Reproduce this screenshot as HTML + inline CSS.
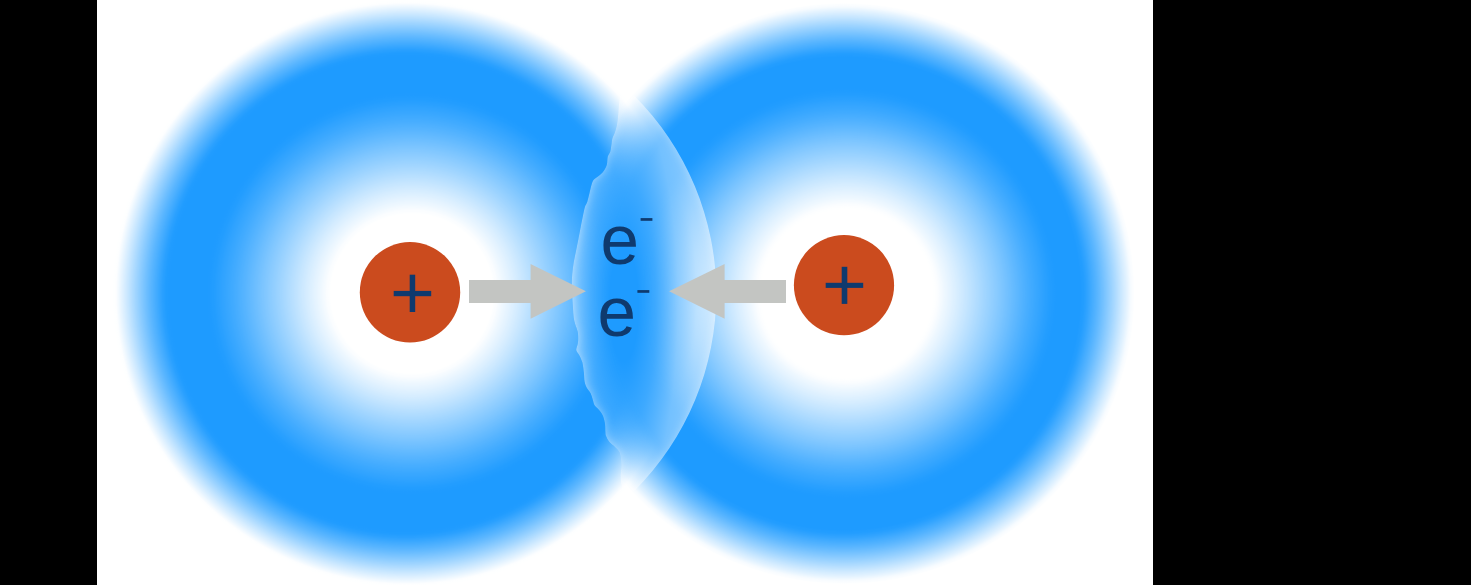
<!DOCTYPE html>
<html><head><meta charset="utf-8">
<style>
html,body{margin:0;padding:0;background:#000;width:1471px;height:585px;overflow:hidden}
svg{position:absolute;left:0;top:0;display:block}
</style></head>
<body>
<svg width="1471" height="585" viewBox="0 0 1471 585">
<defs>
<radialGradient id="go_L" gradientUnits="userSpaceOnUse" cx="406.5" cy="293.5" r="310">
<stop offset="0.0000" stop-color="#fff" stop-opacity="1.0000"/>
<stop offset="0.0125" stop-color="#fff" stop-opacity="1.0000"/>
<stop offset="0.0250" stop-color="#fff" stop-opacity="1.0000"/>
<stop offset="0.0375" stop-color="#fff" stop-opacity="1.0000"/>
<stop offset="0.0500" stop-color="#fff" stop-opacity="1.0000"/>
<stop offset="0.0625" stop-color="#fff" stop-opacity="1.0000"/>
<stop offset="0.0750" stop-color="#fff" stop-opacity="1.0000"/>
<stop offset="0.0875" stop-color="#fff" stop-opacity="1.0000"/>
<stop offset="0.1000" stop-color="#fff" stop-opacity="1.0000"/>
<stop offset="0.1125" stop-color="#fff" stop-opacity="1.0000"/>
<stop offset="0.1250" stop-color="#fff" stop-opacity="1.0000"/>
<stop offset="0.1375" stop-color="#fff" stop-opacity="1.0000"/>
<stop offset="0.1500" stop-color="#fff" stop-opacity="1.0000"/>
<stop offset="0.1625" stop-color="#fff" stop-opacity="1.0000"/>
<stop offset="0.1750" stop-color="#fff" stop-opacity="1.0000"/>
<stop offset="0.1875" stop-color="#fff" stop-opacity="1.0000"/>
<stop offset="0.2000" stop-color="#fff" stop-opacity="1.0000"/>
<stop offset="0.2125" stop-color="#fff" stop-opacity="1.0000"/>
<stop offset="0.2250" stop-color="#fff" stop-opacity="1.0000"/>
<stop offset="0.2375" stop-color="#fff" stop-opacity="1.0000"/>
<stop offset="0.2500" stop-color="#fff" stop-opacity="1.0000"/>
<stop offset="0.2625" stop-color="#fff" stop-opacity="1.0000"/>
<stop offset="0.2750" stop-color="#fff" stop-opacity="1.0000"/>
<stop offset="0.2875" stop-color="#fff" stop-opacity="1.0000"/>
<stop offset="0.3000" stop-color="#fff" stop-opacity="1.0000"/>
<stop offset="0.3125" stop-color="#fff" stop-opacity="1.0000"/>
<stop offset="0.3250" stop-color="#fff" stop-opacity="1.0000"/>
<stop offset="0.3375" stop-color="#fff" stop-opacity="1.0000"/>
<stop offset="0.3500" stop-color="#fff" stop-opacity="1.0000"/>
<stop offset="0.3625" stop-color="#fff" stop-opacity="1.0000"/>
<stop offset="0.3750" stop-color="#fff" stop-opacity="1.0000"/>
<stop offset="0.3875" stop-color="#fff" stop-opacity="1.0000"/>
<stop offset="0.4000" stop-color="#fff" stop-opacity="1.0000"/>
<stop offset="0.4125" stop-color="#fff" stop-opacity="1.0000"/>
<stop offset="0.4250" stop-color="#fff" stop-opacity="1.0000"/>
<stop offset="0.4375" stop-color="#fff" stop-opacity="1.0000"/>
<stop offset="0.4500" stop-color="#fff" stop-opacity="1.0000"/>
<stop offset="0.4625" stop-color="#fff" stop-opacity="1.0000"/>
<stop offset="0.4750" stop-color="#fff" stop-opacity="1.0000"/>
<stop offset="0.4875" stop-color="#fff" stop-opacity="1.0000"/>
<stop offset="0.5000" stop-color="#fff" stop-opacity="1.0000"/>
<stop offset="0.5125" stop-color="#fff" stop-opacity="1.0000"/>
<stop offset="0.5250" stop-color="#fff" stop-opacity="1.0000"/>
<stop offset="0.5375" stop-color="#fff" stop-opacity="1.0000"/>
<stop offset="0.5500" stop-color="#fff" stop-opacity="1.0000"/>
<stop offset="0.5625" stop-color="#fff" stop-opacity="1.0000"/>
<stop offset="0.5750" stop-color="#fff" stop-opacity="1.0000"/>
<stop offset="0.5875" stop-color="#fff" stop-opacity="1.0000"/>
<stop offset="0.6000" stop-color="#fff" stop-opacity="1.0000"/>
<stop offset="0.6125" stop-color="#fff" stop-opacity="1.0000"/>
<stop offset="0.6250" stop-color="#fff" stop-opacity="1.0000"/>
<stop offset="0.6375" stop-color="#fff" stop-opacity="1.0000"/>
<stop offset="0.6500" stop-color="#fff" stop-opacity="1.0000"/>
<stop offset="0.6625" stop-color="#fff" stop-opacity="1.0000"/>
<stop offset="0.6750" stop-color="#fff" stop-opacity="1.0000"/>
<stop offset="0.6875" stop-color="#fff" stop-opacity="1.0000"/>
<stop offset="0.7000" stop-color="#fff" stop-opacity="1.0000"/>
<stop offset="0.7125" stop-color="#fff" stop-opacity="1.0000"/>
<stop offset="0.7250" stop-color="#fff" stop-opacity="1.0000"/>
<stop offset="0.7375" stop-color="#fff" stop-opacity="1.0000"/>
<stop offset="0.7500" stop-color="#fff" stop-opacity="1.0000"/>
<stop offset="0.7625" stop-color="#fff" stop-opacity="1.0000"/>
<stop offset="0.7750" stop-color="#fff" stop-opacity="0.9912"/>
<stop offset="0.7875" stop-color="#fff" stop-opacity="0.9437"/>
<stop offset="0.8000" stop-color="#fff" stop-opacity="0.8736"/>
<stop offset="0.8125" stop-color="#fff" stop-opacity="0.8021"/>
<stop offset="0.8250" stop-color="#fff" stop-opacity="0.7325"/>
<stop offset="0.8375" stop-color="#fff" stop-opacity="0.6547"/>
<stop offset="0.8500" stop-color="#fff" stop-opacity="0.5732"/>
<stop offset="0.8625" stop-color="#fff" stop-opacity="0.4923"/>
<stop offset="0.8750" stop-color="#fff" stop-opacity="0.4098"/>
<stop offset="0.8875" stop-color="#fff" stop-opacity="0.3249"/>
<stop offset="0.9000" stop-color="#fff" stop-opacity="0.2409"/>
<stop offset="0.9125" stop-color="#fff" stop-opacity="0.1609"/>
<stop offset="0.9250" stop-color="#fff" stop-opacity="0.0829"/>
<stop offset="0.9375" stop-color="#fff" stop-opacity="0.0080"/>
<stop offset="0.9500" stop-color="#fff" stop-opacity="0.0000"/>
<stop offset="0.9625" stop-color="#fff" stop-opacity="0.0000"/>
<stop offset="0.9750" stop-color="#fff" stop-opacity="0.0000"/>
<stop offset="0.9875" stop-color="#fff" stop-opacity="0.0000"/>
<stop offset="1.0000" stop-color="#fff" stop-opacity="0.0000"/>
</radialGradient>
<radialGradient id="gi_L" gradientUnits="userSpaceOnUse" cx="412" cy="293.5" r="310" gradientTransform="translate(412 293.5) scale(1 0.98) translate(-412 -293.5)">
<stop offset="0.0000" stop-color="#fff" stop-opacity="0.0000"/>
<stop offset="0.0125" stop-color="#fff" stop-opacity="0.0000"/>
<stop offset="0.0250" stop-color="#fff" stop-opacity="0.0000"/>
<stop offset="0.0375" stop-color="#fff" stop-opacity="0.0000"/>
<stop offset="0.0500" stop-color="#fff" stop-opacity="0.0000"/>
<stop offset="0.0625" stop-color="#fff" stop-opacity="0.0000"/>
<stop offset="0.0750" stop-color="#fff" stop-opacity="0.0000"/>
<stop offset="0.0875" stop-color="#fff" stop-opacity="0.0000"/>
<stop offset="0.1000" stop-color="#fff" stop-opacity="0.0000"/>
<stop offset="0.1125" stop-color="#fff" stop-opacity="0.0000"/>
<stop offset="0.1250" stop-color="#fff" stop-opacity="0.0000"/>
<stop offset="0.1375" stop-color="#fff" stop-opacity="0.0000"/>
<stop offset="0.1500" stop-color="#fff" stop-opacity="0.0000"/>
<stop offset="0.1625" stop-color="#fff" stop-opacity="0.0000"/>
<stop offset="0.1750" stop-color="#fff" stop-opacity="0.0000"/>
<stop offset="0.1875" stop-color="#fff" stop-opacity="0.0000"/>
<stop offset="0.2000" stop-color="#fff" stop-opacity="0.0000"/>
<stop offset="0.2125" stop-color="#fff" stop-opacity="0.0000"/>
<stop offset="0.2250" stop-color="#fff" stop-opacity="0.0000"/>
<stop offset="0.2375" stop-color="#fff" stop-opacity="0.0000"/>
<stop offset="0.2500" stop-color="#fff" stop-opacity="0.0000"/>
<stop offset="0.2625" stop-color="#fff" stop-opacity="0.0019"/>
<stop offset="0.2750" stop-color="#fff" stop-opacity="0.0230"/>
<stop offset="0.2875" stop-color="#fff" stop-opacity="0.0562"/>
<stop offset="0.3000" stop-color="#fff" stop-opacity="0.0874"/>
<stop offset="0.3125" stop-color="#fff" stop-opacity="0.1173"/>
<stop offset="0.3250" stop-color="#fff" stop-opacity="0.1486"/>
<stop offset="0.3375" stop-color="#fff" stop-opacity="0.1813"/>
<stop offset="0.3500" stop-color="#fff" stop-opacity="0.2150"/>
<stop offset="0.3625" stop-color="#fff" stop-opacity="0.2496"/>
<stop offset="0.3750" stop-color="#fff" stop-opacity="0.2847"/>
<stop offset="0.3875" stop-color="#fff" stop-opacity="0.3203"/>
<stop offset="0.4000" stop-color="#fff" stop-opacity="0.3560"/>
<stop offset="0.4125" stop-color="#fff" stop-opacity="0.3916"/>
<stop offset="0.4250" stop-color="#fff" stop-opacity="0.4269"/>
<stop offset="0.4375" stop-color="#fff" stop-opacity="0.4617"/>
<stop offset="0.4500" stop-color="#fff" stop-opacity="0.4957"/>
<stop offset="0.4625" stop-color="#fff" stop-opacity="0.5295"/>
<stop offset="0.4750" stop-color="#fff" stop-opacity="0.5642"/>
<stop offset="0.4875" stop-color="#fff" stop-opacity="0.5994"/>
<stop offset="0.5000" stop-color="#fff" stop-opacity="0.6350"/>
<stop offset="0.5125" stop-color="#fff" stop-opacity="0.6705"/>
<stop offset="0.5250" stop-color="#fff" stop-opacity="0.7056"/>
<stop offset="0.5375" stop-color="#fff" stop-opacity="0.7402"/>
<stop offset="0.5500" stop-color="#fff" stop-opacity="0.7739"/>
<stop offset="0.5625" stop-color="#fff" stop-opacity="0.8063"/>
<stop offset="0.5750" stop-color="#fff" stop-opacity="0.8372"/>
<stop offset="0.5875" stop-color="#fff" stop-opacity="0.8664"/>
<stop offset="0.6000" stop-color="#fff" stop-opacity="0.8934"/>
<stop offset="0.6125" stop-color="#fff" stop-opacity="0.9201"/>
<stop offset="0.6250" stop-color="#fff" stop-opacity="0.9488"/>
<stop offset="0.6375" stop-color="#fff" stop-opacity="0.9750"/>
<stop offset="0.6500" stop-color="#fff" stop-opacity="0.9937"/>
<stop offset="0.6625" stop-color="#fff" stop-opacity="1.0000"/>
<stop offset="0.6750" stop-color="#fff" stop-opacity="1.0000"/>
<stop offset="0.6875" stop-color="#fff" stop-opacity="1.0000"/>
<stop offset="0.7000" stop-color="#fff" stop-opacity="1.0000"/>
<stop offset="0.7125" stop-color="#fff" stop-opacity="1.0000"/>
<stop offset="0.7250" stop-color="#fff" stop-opacity="1.0000"/>
<stop offset="0.7375" stop-color="#fff" stop-opacity="1.0000"/>
<stop offset="0.7500" stop-color="#fff" stop-opacity="1.0000"/>
<stop offset="0.7625" stop-color="#fff" stop-opacity="1.0000"/>
<stop offset="0.7750" stop-color="#fff" stop-opacity="1.0000"/>
<stop offset="0.7875" stop-color="#fff" stop-opacity="1.0000"/>
<stop offset="0.8000" stop-color="#fff" stop-opacity="1.0000"/>
<stop offset="0.8125" stop-color="#fff" stop-opacity="1.0000"/>
<stop offset="0.8250" stop-color="#fff" stop-opacity="1.0000"/>
<stop offset="0.8375" stop-color="#fff" stop-opacity="1.0000"/>
<stop offset="0.8500" stop-color="#fff" stop-opacity="1.0000"/>
<stop offset="0.8625" stop-color="#fff" stop-opacity="1.0000"/>
<stop offset="0.8750" stop-color="#fff" stop-opacity="1.0000"/>
<stop offset="0.8875" stop-color="#fff" stop-opacity="1.0000"/>
<stop offset="0.9000" stop-color="#fff" stop-opacity="1.0000"/>
<stop offset="0.9125" stop-color="#fff" stop-opacity="1.0000"/>
<stop offset="0.9250" stop-color="#fff" stop-opacity="1.0000"/>
<stop offset="0.9375" stop-color="#fff" stop-opacity="1.0000"/>
<stop offset="0.9500" stop-color="#fff" stop-opacity="1.0000"/>
<stop offset="0.9625" stop-color="#fff" stop-opacity="1.0000"/>
<stop offset="0.9750" stop-color="#fff" stop-opacity="1.0000"/>
<stop offset="0.9875" stop-color="#fff" stop-opacity="1.0000"/>
<stop offset="1.0000" stop-color="#fff" stop-opacity="1.0000"/>
</radialGradient>
<mask id="mo_L" maskUnits="userSpaceOnUse" x="0" y="0" width="1471" height="585"><rect x="0" y="0" width="1471" height="585" fill="url(#go_L)"/></mask>
<mask id="mi_L" maskUnits="userSpaceOnUse" x="0" y="0" width="1471" height="585"><rect x="0" y="0" width="1471" height="585" fill="url(#gi_L)"/></mask>
<radialGradient id="go_R" gradientUnits="userSpaceOnUse" cx="844" cy="293.5" r="310">
<stop offset="0.0000" stop-color="#fff" stop-opacity="1.0000"/>
<stop offset="0.0125" stop-color="#fff" stop-opacity="1.0000"/>
<stop offset="0.0250" stop-color="#fff" stop-opacity="1.0000"/>
<stop offset="0.0375" stop-color="#fff" stop-opacity="1.0000"/>
<stop offset="0.0500" stop-color="#fff" stop-opacity="1.0000"/>
<stop offset="0.0625" stop-color="#fff" stop-opacity="1.0000"/>
<stop offset="0.0750" stop-color="#fff" stop-opacity="1.0000"/>
<stop offset="0.0875" stop-color="#fff" stop-opacity="1.0000"/>
<stop offset="0.1000" stop-color="#fff" stop-opacity="1.0000"/>
<stop offset="0.1125" stop-color="#fff" stop-opacity="1.0000"/>
<stop offset="0.1250" stop-color="#fff" stop-opacity="1.0000"/>
<stop offset="0.1375" stop-color="#fff" stop-opacity="1.0000"/>
<stop offset="0.1500" stop-color="#fff" stop-opacity="1.0000"/>
<stop offset="0.1625" stop-color="#fff" stop-opacity="1.0000"/>
<stop offset="0.1750" stop-color="#fff" stop-opacity="1.0000"/>
<stop offset="0.1875" stop-color="#fff" stop-opacity="1.0000"/>
<stop offset="0.2000" stop-color="#fff" stop-opacity="1.0000"/>
<stop offset="0.2125" stop-color="#fff" stop-opacity="1.0000"/>
<stop offset="0.2250" stop-color="#fff" stop-opacity="1.0000"/>
<stop offset="0.2375" stop-color="#fff" stop-opacity="1.0000"/>
<stop offset="0.2500" stop-color="#fff" stop-opacity="1.0000"/>
<stop offset="0.2625" stop-color="#fff" stop-opacity="1.0000"/>
<stop offset="0.2750" stop-color="#fff" stop-opacity="1.0000"/>
<stop offset="0.2875" stop-color="#fff" stop-opacity="1.0000"/>
<stop offset="0.3000" stop-color="#fff" stop-opacity="1.0000"/>
<stop offset="0.3125" stop-color="#fff" stop-opacity="1.0000"/>
<stop offset="0.3250" stop-color="#fff" stop-opacity="1.0000"/>
<stop offset="0.3375" stop-color="#fff" stop-opacity="1.0000"/>
<stop offset="0.3500" stop-color="#fff" stop-opacity="1.0000"/>
<stop offset="0.3625" stop-color="#fff" stop-opacity="1.0000"/>
<stop offset="0.3750" stop-color="#fff" stop-opacity="1.0000"/>
<stop offset="0.3875" stop-color="#fff" stop-opacity="1.0000"/>
<stop offset="0.4000" stop-color="#fff" stop-opacity="1.0000"/>
<stop offset="0.4125" stop-color="#fff" stop-opacity="1.0000"/>
<stop offset="0.4250" stop-color="#fff" stop-opacity="1.0000"/>
<stop offset="0.4375" stop-color="#fff" stop-opacity="1.0000"/>
<stop offset="0.4500" stop-color="#fff" stop-opacity="1.0000"/>
<stop offset="0.4625" stop-color="#fff" stop-opacity="1.0000"/>
<stop offset="0.4750" stop-color="#fff" stop-opacity="1.0000"/>
<stop offset="0.4875" stop-color="#fff" stop-opacity="1.0000"/>
<stop offset="0.5000" stop-color="#fff" stop-opacity="1.0000"/>
<stop offset="0.5125" stop-color="#fff" stop-opacity="1.0000"/>
<stop offset="0.5250" stop-color="#fff" stop-opacity="1.0000"/>
<stop offset="0.5375" stop-color="#fff" stop-opacity="1.0000"/>
<stop offset="0.5500" stop-color="#fff" stop-opacity="1.0000"/>
<stop offset="0.5625" stop-color="#fff" stop-opacity="1.0000"/>
<stop offset="0.5750" stop-color="#fff" stop-opacity="1.0000"/>
<stop offset="0.5875" stop-color="#fff" stop-opacity="1.0000"/>
<stop offset="0.6000" stop-color="#fff" stop-opacity="1.0000"/>
<stop offset="0.6125" stop-color="#fff" stop-opacity="1.0000"/>
<stop offset="0.6250" stop-color="#fff" stop-opacity="1.0000"/>
<stop offset="0.6375" stop-color="#fff" stop-opacity="1.0000"/>
<stop offset="0.6500" stop-color="#fff" stop-opacity="1.0000"/>
<stop offset="0.6625" stop-color="#fff" stop-opacity="1.0000"/>
<stop offset="0.6750" stop-color="#fff" stop-opacity="1.0000"/>
<stop offset="0.6875" stop-color="#fff" stop-opacity="1.0000"/>
<stop offset="0.7000" stop-color="#fff" stop-opacity="1.0000"/>
<stop offset="0.7125" stop-color="#fff" stop-opacity="1.0000"/>
<stop offset="0.7250" stop-color="#fff" stop-opacity="1.0000"/>
<stop offset="0.7375" stop-color="#fff" stop-opacity="1.0000"/>
<stop offset="0.7500" stop-color="#fff" stop-opacity="1.0000"/>
<stop offset="0.7625" stop-color="#fff" stop-opacity="0.9997"/>
<stop offset="0.7750" stop-color="#fff" stop-opacity="0.9708"/>
<stop offset="0.7875" stop-color="#fff" stop-opacity="0.9090"/>
<stop offset="0.8000" stop-color="#fff" stop-opacity="0.8355"/>
<stop offset="0.8125" stop-color="#fff" stop-opacity="0.7674"/>
<stop offset="0.8250" stop-color="#fff" stop-opacity="0.6931"/>
<stop offset="0.8375" stop-color="#fff" stop-opacity="0.6128"/>
<stop offset="0.8500" stop-color="#fff" stop-opacity="0.5311"/>
<stop offset="0.8625" stop-color="#fff" stop-opacity="0.4502"/>
<stop offset="0.8750" stop-color="#fff" stop-opacity="0.3661"/>
<stop offset="0.8875" stop-color="#fff" stop-opacity="0.2812"/>
<stop offset="0.9000" stop-color="#fff" stop-opacity="0.1989"/>
<stop offset="0.9125" stop-color="#fff" stop-opacity="0.1223"/>
<stop offset="0.9250" stop-color="#fff" stop-opacity="0.0385"/>
<stop offset="0.9375" stop-color="#fff" stop-opacity="0.0000"/>
<stop offset="0.9500" stop-color="#fff" stop-opacity="0.0000"/>
<stop offset="0.9625" stop-color="#fff" stop-opacity="0.0000"/>
<stop offset="0.9750" stop-color="#fff" stop-opacity="0.0000"/>
<stop offset="0.9875" stop-color="#fff" stop-opacity="0.0000"/>
<stop offset="1.0000" stop-color="#fff" stop-opacity="0.0000"/>
</radialGradient>
<radialGradient id="gi_R" gradientUnits="userSpaceOnUse" cx="847" cy="293.5" r="310" gradientTransform="translate(847 293.5) scale(1 0.98) translate(-847 -293.5)">
<stop offset="0.0000" stop-color="#fff" stop-opacity="0.0000"/>
<stop offset="0.0125" stop-color="#fff" stop-opacity="0.0000"/>
<stop offset="0.0250" stop-color="#fff" stop-opacity="0.0000"/>
<stop offset="0.0375" stop-color="#fff" stop-opacity="0.0000"/>
<stop offset="0.0500" stop-color="#fff" stop-opacity="0.0000"/>
<stop offset="0.0625" stop-color="#fff" stop-opacity="0.0000"/>
<stop offset="0.0750" stop-color="#fff" stop-opacity="0.0000"/>
<stop offset="0.0875" stop-color="#fff" stop-opacity="0.0000"/>
<stop offset="0.1000" stop-color="#fff" stop-opacity="0.0000"/>
<stop offset="0.1125" stop-color="#fff" stop-opacity="0.0000"/>
<stop offset="0.1250" stop-color="#fff" stop-opacity="0.0000"/>
<stop offset="0.1375" stop-color="#fff" stop-opacity="0.0000"/>
<stop offset="0.1500" stop-color="#fff" stop-opacity="0.0000"/>
<stop offset="0.1625" stop-color="#fff" stop-opacity="0.0000"/>
<stop offset="0.1750" stop-color="#fff" stop-opacity="0.0000"/>
<stop offset="0.1875" stop-color="#fff" stop-opacity="0.0000"/>
<stop offset="0.2000" stop-color="#fff" stop-opacity="0.0000"/>
<stop offset="0.2125" stop-color="#fff" stop-opacity="0.0000"/>
<stop offset="0.2250" stop-color="#fff" stop-opacity="0.0000"/>
<stop offset="0.2375" stop-color="#fff" stop-opacity="0.0000"/>
<stop offset="0.2500" stop-color="#fff" stop-opacity="0.0000"/>
<stop offset="0.2625" stop-color="#fff" stop-opacity="0.0000"/>
<stop offset="0.2750" stop-color="#fff" stop-opacity="0.0000"/>
<stop offset="0.2875" stop-color="#fff" stop-opacity="0.0090"/>
<stop offset="0.3000" stop-color="#fff" stop-opacity="0.0375"/>
<stop offset="0.3125" stop-color="#fff" stop-opacity="0.0713"/>
<stop offset="0.3250" stop-color="#fff" stop-opacity="0.1005"/>
<stop offset="0.3375" stop-color="#fff" stop-opacity="0.1304"/>
<stop offset="0.3500" stop-color="#fff" stop-opacity="0.1616"/>
<stop offset="0.3625" stop-color="#fff" stop-opacity="0.1937"/>
<stop offset="0.3750" stop-color="#fff" stop-opacity="0.2267"/>
<stop offset="0.3875" stop-color="#fff" stop-opacity="0.2604"/>
<stop offset="0.4000" stop-color="#fff" stop-opacity="0.2946"/>
<stop offset="0.4125" stop-color="#fff" stop-opacity="0.3292"/>
<stop offset="0.4250" stop-color="#fff" stop-opacity="0.3640"/>
<stop offset="0.4375" stop-color="#fff" stop-opacity="0.3989"/>
<stop offset="0.4500" stop-color="#fff" stop-opacity="0.4336"/>
<stop offset="0.4625" stop-color="#fff" stop-opacity="0.4681"/>
<stop offset="0.4750" stop-color="#fff" stop-opacity="0.5022"/>
<stop offset="0.4875" stop-color="#fff" stop-opacity="0.5369"/>
<stop offset="0.5000" stop-color="#fff" stop-opacity="0.5729"/>
<stop offset="0.5125" stop-color="#fff" stop-opacity="0.6098"/>
<stop offset="0.5250" stop-color="#fff" stop-opacity="0.6471"/>
<stop offset="0.5375" stop-color="#fff" stop-opacity="0.6844"/>
<stop offset="0.5500" stop-color="#fff" stop-opacity="0.7213"/>
<stop offset="0.5625" stop-color="#fff" stop-opacity="0.7575"/>
<stop offset="0.5750" stop-color="#fff" stop-opacity="0.7924"/>
<stop offset="0.5875" stop-color="#fff" stop-opacity="0.8256"/>
<stop offset="0.6000" stop-color="#fff" stop-opacity="0.8568"/>
<stop offset="0.6125" stop-color="#fff" stop-opacity="0.8855"/>
<stop offset="0.6250" stop-color="#fff" stop-opacity="0.9121"/>
<stop offset="0.6375" stop-color="#fff" stop-opacity="0.9408"/>
<stop offset="0.6500" stop-color="#fff" stop-opacity="0.9682"/>
<stop offset="0.6625" stop-color="#fff" stop-opacity="0.9894"/>
<stop offset="0.6750" stop-color="#fff" stop-opacity="0.9997"/>
<stop offset="0.6875" stop-color="#fff" stop-opacity="1.0000"/>
<stop offset="0.7000" stop-color="#fff" stop-opacity="1.0000"/>
<stop offset="0.7125" stop-color="#fff" stop-opacity="1.0000"/>
<stop offset="0.7250" stop-color="#fff" stop-opacity="1.0000"/>
<stop offset="0.7375" stop-color="#fff" stop-opacity="1.0000"/>
<stop offset="0.7500" stop-color="#fff" stop-opacity="1.0000"/>
<stop offset="0.7625" stop-color="#fff" stop-opacity="1.0000"/>
<stop offset="0.7750" stop-color="#fff" stop-opacity="1.0000"/>
<stop offset="0.7875" stop-color="#fff" stop-opacity="1.0000"/>
<stop offset="0.8000" stop-color="#fff" stop-opacity="1.0000"/>
<stop offset="0.8125" stop-color="#fff" stop-opacity="1.0000"/>
<stop offset="0.8250" stop-color="#fff" stop-opacity="1.0000"/>
<stop offset="0.8375" stop-color="#fff" stop-opacity="1.0000"/>
<stop offset="0.8500" stop-color="#fff" stop-opacity="1.0000"/>
<stop offset="0.8625" stop-color="#fff" stop-opacity="1.0000"/>
<stop offset="0.8750" stop-color="#fff" stop-opacity="1.0000"/>
<stop offset="0.8875" stop-color="#fff" stop-opacity="1.0000"/>
<stop offset="0.9000" stop-color="#fff" stop-opacity="1.0000"/>
<stop offset="0.9125" stop-color="#fff" stop-opacity="1.0000"/>
<stop offset="0.9250" stop-color="#fff" stop-opacity="1.0000"/>
<stop offset="0.9375" stop-color="#fff" stop-opacity="1.0000"/>
<stop offset="0.9500" stop-color="#fff" stop-opacity="1.0000"/>
<stop offset="0.9625" stop-color="#fff" stop-opacity="1.0000"/>
<stop offset="0.9750" stop-color="#fff" stop-opacity="1.0000"/>
<stop offset="0.9875" stop-color="#fff" stop-opacity="1.0000"/>
<stop offset="1.0000" stop-color="#fff" stop-opacity="1.0000"/>
</radialGradient>
<mask id="mo_R" maskUnits="userSpaceOnUse" x="0" y="0" width="1471" height="585"><rect x="0" y="0" width="1471" height="585" fill="url(#go_R)"/></mask>
<mask id="mi_R" maskUnits="userSpaceOnUse" x="0" y="0" width="1471" height="585"><rect x="0" y="0" width="1471" height="585" fill="url(#gi_R)"/></mask>
<radialGradient id="lg" gradientUnits="userSpaceOnUse" cx="624" cy="305" r="280" gradientTransform="translate(624 305) scale(0.2571 1) translate(-624 -305)">
<stop offset="0" stop-color="#fff" stop-opacity="0"/>
<stop offset="0.2" stop-color="#fff" stop-opacity="0.0"/>
<stop offset="0.45" stop-color="#fff" stop-opacity="0.14"/>
<stop offset="0.75" stop-color="#fff" stop-opacity="0.38"/>
<stop offset="1" stop-color="#fff" stop-opacity="0.45"/>
</radialGradient>
<filter id="ig" x="-50%" y="-50%" width="200%" height="200%">
<feGaussianBlur in="SourceAlpha" stdDeviation="5" result="b"/>
<feComposite in="SourceAlpha" in2="b" operator="out" result="edge"/>
<feFlood flood-color="#fff" flood-opacity="0.4"/>
<feComposite in2="edge" operator="in"/>
</filter>
<filter id="ig2" x="-50%" y="-50%" width="200%" height="200%">
<feGaussianBlur in="SourceAlpha" stdDeviation="4" result="b"/>
<feComposite in="SourceAlpha" in2="b" operator="out" result="edge"/>
<feFlood flood-color="#fff" flood-opacity="0.3"/>
<feComposite in2="edge" operator="in"/>
</filter>
<clipPath id="lc"><path d="M620.3 96.0 L634.0 95.6 A279 279 0 0 1 634.6 490.7 L626.0 493.0 C625.6 492.5 624.5 491.3 623.7 489.8 C622.9 488.3 621.8 486.2 621.3 483.8 C620.8 481.4 620.7 478.5 620.7 475.5 C620.7 472.5 621.3 468.9 621.3 465.9 C621.3 462.9 621.1 459.9 620.7 457.5 C620.3 455.1 619.9 453.3 618.9 451.5 C617.9 449.7 616.3 448.3 614.7 446.7 C613.1 445.1 610.9 443.8 609.4 442.0 C607.9 440.2 606.7 437.6 606.0 436.0 C605.3 434.4 605.6 434.3 605.4 432.3 C605.2 430.3 605.4 426.8 605.0 424.1 C604.6 421.4 604.0 418.3 603.0 415.9 C602.0 413.5 600.2 411.4 598.8 409.7 C597.4 408.0 595.7 407.3 594.7 405.6 C593.7 403.9 593.4 401.6 592.7 399.5 C592.0 397.4 591.6 395.4 590.6 393.3 C589.6 391.2 587.5 389.2 586.5 387.2 C585.5 385.1 584.9 383.4 584.5 381.0 C584.1 378.6 584.2 375.9 583.9 372.8 C583.5 369.7 583.1 365.5 582.4 362.6 C581.6 359.7 580.4 357.4 579.4 355.4 C578.4 353.3 576.6 352.2 576.3 350.3 C576.0 348.4 577.4 346.0 577.7 344.1 C578.0 342.2 578.2 341.1 578.2 339.0 C578.2 336.9 578.2 334.2 577.7 331.8 C577.2 329.4 576.0 327.0 575.3 324.6 C574.6 322.2 574.1 320.3 573.7 317.5 C573.3 314.7 573.2 311.5 573.0 307.9 C572.8 304.3 572.4 299.5 572.2 295.9 C572.0 292.3 571.8 290.0 571.8 286.4 C571.8 282.8 571.9 278.4 572.2 274.4 C572.5 270.4 573.1 266.4 573.7 262.4 C574.4 258.4 575.3 254.5 576.1 250.5 C576.9 246.5 577.7 242.5 578.5 238.5 C579.3 234.5 580.0 230.5 580.8 226.5 C581.6 222.5 582.5 217.8 583.2 214.6 C583.9 211.3 584.2 209.2 584.9 207.0 C585.6 204.8 586.5 203.9 587.3 201.7 C588.0 199.4 588.7 196.2 589.4 193.5 C590.1 190.8 590.7 187.5 591.4 185.3 C592.1 183.1 592.3 181.7 593.5 180.1 C594.7 178.5 596.9 177.5 598.6 176.0 C600.3 174.5 602.3 172.8 603.7 170.9 C605.1 169.0 606.1 167.1 606.8 164.7 C607.5 162.3 607.2 158.7 607.8 156.5 C608.4 154.3 609.7 153.5 610.3 151.4 C610.9 149.3 611.1 146.4 611.5 144.2 C611.9 142.0 611.9 140.1 612.5 138.1 C613.1 136.1 614.2 134.3 615.0 131.9 C615.8 129.5 616.5 127.1 617.1 123.7 C617.7 120.3 618.2 114.8 618.5 111.4 C618.8 108.0 618.8 105.8 619.1 103.2 C619.4 100.6 620.1 97.2 620.3 96.0 Z"/></clipPath>
<clipPath id="rc"><path d="M620.3 96.0 L620.3 -50 L1300 -50 L1300 650 L626.0 650 L626.0 493.0 C625.6 492.5 624.5 491.3 623.7 489.8 C622.9 488.3 621.8 486.2 621.3 483.8 C620.8 481.4 620.7 478.5 620.7 475.5 C620.7 472.5 621.3 468.9 621.3 465.9 C621.3 462.9 621.1 459.9 620.7 457.5 C620.3 455.1 619.9 453.3 618.9 451.5 C617.9 449.7 616.3 448.3 614.7 446.7 C613.1 445.1 610.9 443.8 609.4 442.0 C607.9 440.2 606.7 437.6 606.0 436.0 C605.3 434.4 605.6 434.3 605.4 432.3 C605.2 430.3 605.4 426.8 605.0 424.1 C604.6 421.4 604.0 418.3 603.0 415.9 C602.0 413.5 600.2 411.4 598.8 409.7 C597.4 408.0 595.7 407.3 594.7 405.6 C593.7 403.9 593.4 401.6 592.7 399.5 C592.0 397.4 591.6 395.4 590.6 393.3 C589.6 391.2 587.5 389.2 586.5 387.2 C585.5 385.1 584.9 383.4 584.5 381.0 C584.1 378.6 584.2 375.9 583.9 372.8 C583.5 369.7 583.1 365.5 582.4 362.6 C581.6 359.7 580.4 357.4 579.4 355.4 C578.4 353.3 576.6 352.2 576.3 350.3 C576.0 348.4 577.4 346.0 577.7 344.1 C578.0 342.2 578.2 341.1 578.2 339.0 C578.2 336.9 578.2 334.2 577.7 331.8 C577.2 329.4 576.0 327.0 575.3 324.6 C574.6 322.2 574.1 320.3 573.7 317.5 C573.3 314.7 573.2 311.5 573.0 307.9 C572.8 304.3 572.4 299.5 572.2 295.9 C572.0 292.3 571.8 290.0 571.8 286.4 C571.8 282.8 571.9 278.4 572.2 274.4 C572.5 270.4 573.1 266.4 573.7 262.4 C574.4 258.4 575.3 254.5 576.1 250.5 C576.9 246.5 577.7 242.5 578.5 238.5 C579.3 234.5 580.0 230.5 580.8 226.5 C581.6 222.5 582.5 217.8 583.2 214.6 C583.9 211.3 584.2 209.2 584.9 207.0 C585.6 204.8 586.5 203.9 587.3 201.7 C588.0 199.4 588.7 196.2 589.4 193.5 C590.1 190.8 590.7 187.5 591.4 185.3 C592.1 183.1 592.3 181.7 593.5 180.1 C594.7 178.5 596.9 177.5 598.6 176.0 C600.3 174.5 602.3 172.8 603.7 170.9 C605.1 169.0 606.1 167.1 606.8 164.7 C607.5 162.3 607.2 158.7 607.8 156.5 C608.4 154.3 609.7 153.5 610.3 151.4 C610.9 149.3 611.1 146.4 611.5 144.2 C611.9 142.0 611.9 140.1 612.5 138.1 C613.1 136.1 614.2 134.3 615.0 131.9 C615.8 129.5 616.5 127.1 617.1 123.7 C617.7 120.3 618.2 114.8 618.5 111.4 C618.8 108.0 618.8 105.8 619.1 103.2 C619.4 100.6 620.1 97.2 620.3 96.0 Z"/></clipPath>
</defs>
<rect x="97" y="0" width="1056" height="585" fill="#fff"/>
<g mask="url(#mo_L)"><rect x="97" y="0" width="1056" height="585" fill="#1e9bff" mask="url(#mi_L)"/></g>
<g clip-path="url(#rc)"><g mask="url(#mo_R)"><rect x="97" y="0" width="1056" height="585" fill="#1e9bff" mask="url(#mi_R)"/></g></g>
<path fill="url(#lg)" d="M620.3 96.0 L634.0 95.6 A279 279 0 0 1 634.6 490.7 L626.0 493.0 C625.6 492.5 624.5 491.3 623.7 489.8 C622.9 488.3 621.8 486.2 621.3 483.8 C620.8 481.4 620.7 478.5 620.7 475.5 C620.7 472.5 621.3 468.9 621.3 465.9 C621.3 462.9 621.1 459.9 620.7 457.5 C620.3 455.1 619.9 453.3 618.9 451.5 C617.9 449.7 616.3 448.3 614.7 446.7 C613.1 445.1 610.9 443.8 609.4 442.0 C607.9 440.2 606.7 437.6 606.0 436.0 C605.3 434.4 605.6 434.3 605.4 432.3 C605.2 430.3 605.4 426.8 605.0 424.1 C604.6 421.4 604.0 418.3 603.0 415.9 C602.0 413.5 600.2 411.4 598.8 409.7 C597.4 408.0 595.7 407.3 594.7 405.6 C593.7 403.9 593.4 401.6 592.7 399.5 C592.0 397.4 591.6 395.4 590.6 393.3 C589.6 391.2 587.5 389.2 586.5 387.2 C585.5 385.1 584.9 383.4 584.5 381.0 C584.1 378.6 584.2 375.9 583.9 372.8 C583.5 369.7 583.1 365.5 582.4 362.6 C581.6 359.7 580.4 357.4 579.4 355.4 C578.4 353.3 576.6 352.2 576.3 350.3 C576.0 348.4 577.4 346.0 577.7 344.1 C578.0 342.2 578.2 341.1 578.2 339.0 C578.2 336.9 578.2 334.2 577.7 331.8 C577.2 329.4 576.0 327.0 575.3 324.6 C574.6 322.2 574.1 320.3 573.7 317.5 C573.3 314.7 573.2 311.5 573.0 307.9 C572.8 304.3 572.4 299.5 572.2 295.9 C572.0 292.3 571.8 290.0 571.8 286.4 C571.8 282.8 571.9 278.4 572.2 274.4 C572.5 270.4 573.1 266.4 573.7 262.4 C574.4 258.4 575.3 254.5 576.1 250.5 C576.9 246.5 577.7 242.5 578.5 238.5 C579.3 234.5 580.0 230.5 580.8 226.5 C581.6 222.5 582.5 217.8 583.2 214.6 C583.9 211.3 584.2 209.2 584.9 207.0 C585.6 204.8 586.5 203.9 587.3 201.7 C588.0 199.4 588.7 196.2 589.4 193.5 C590.1 190.8 590.7 187.5 591.4 185.3 C592.1 183.1 592.3 181.7 593.5 180.1 C594.7 178.5 596.9 177.5 598.6 176.0 C600.3 174.5 602.3 172.8 603.7 170.9 C605.1 169.0 606.1 167.1 606.8 164.7 C607.5 162.3 607.2 158.7 607.8 156.5 C608.4 154.3 609.7 153.5 610.3 151.4 C610.9 149.3 611.1 146.4 611.5 144.2 C611.9 142.0 611.9 140.1 612.5 138.1 C613.1 136.1 614.2 134.3 615.0 131.9 C615.8 129.5 616.5 127.1 617.1 123.7 C617.7 120.3 618.2 114.8 618.5 111.4 C618.8 108.0 618.8 105.8 619.1 103.2 C619.4 100.6 620.1 97.2 620.3 96.0 Z"/>
<g clip-path="url(#lc)"><path fill="#000" filter="url(#ig)" d="M620.3 96.0 L620.3 -50 L1300 -50 L1300 650 L626.0 650 L626.0 493.0 C625.6 492.5 624.5 491.3 623.7 489.8 C622.9 488.3 621.8 486.2 621.3 483.8 C620.8 481.4 620.7 478.5 620.7 475.5 C620.7 472.5 621.3 468.9 621.3 465.9 C621.3 462.9 621.1 459.9 620.7 457.5 C620.3 455.1 619.9 453.3 618.9 451.5 C617.9 449.7 616.3 448.3 614.7 446.7 C613.1 445.1 610.9 443.8 609.4 442.0 C607.9 440.2 606.7 437.6 606.0 436.0 C605.3 434.4 605.6 434.3 605.4 432.3 C605.2 430.3 605.4 426.8 605.0 424.1 C604.6 421.4 604.0 418.3 603.0 415.9 C602.0 413.5 600.2 411.4 598.8 409.7 C597.4 408.0 595.7 407.3 594.7 405.6 C593.7 403.9 593.4 401.6 592.7 399.5 C592.0 397.4 591.6 395.4 590.6 393.3 C589.6 391.2 587.5 389.2 586.5 387.2 C585.5 385.1 584.9 383.4 584.5 381.0 C584.1 378.6 584.2 375.9 583.9 372.8 C583.5 369.7 583.1 365.5 582.4 362.6 C581.6 359.7 580.4 357.4 579.4 355.4 C578.4 353.3 576.6 352.2 576.3 350.3 C576.0 348.4 577.4 346.0 577.7 344.1 C578.0 342.2 578.2 341.1 578.2 339.0 C578.2 336.9 578.2 334.2 577.7 331.8 C577.2 329.4 576.0 327.0 575.3 324.6 C574.6 322.2 574.1 320.3 573.7 317.5 C573.3 314.7 573.2 311.5 573.0 307.9 C572.8 304.3 572.4 299.5 572.2 295.9 C572.0 292.3 571.8 290.0 571.8 286.4 C571.8 282.8 571.9 278.4 572.2 274.4 C572.5 270.4 573.1 266.4 573.7 262.4 C574.4 258.4 575.3 254.5 576.1 250.5 C576.9 246.5 577.7 242.5 578.5 238.5 C579.3 234.5 580.0 230.5 580.8 226.5 C581.6 222.5 582.5 217.8 583.2 214.6 C583.9 211.3 584.2 209.2 584.9 207.0 C585.6 204.8 586.5 203.9 587.3 201.7 C588.0 199.4 588.7 196.2 589.4 193.5 C590.1 190.8 590.7 187.5 591.4 185.3 C592.1 183.1 592.3 181.7 593.5 180.1 C594.7 178.5 596.9 177.5 598.6 176.0 C600.3 174.5 602.3 172.8 603.7 170.9 C605.1 169.0 606.1 167.1 606.8 164.7 C607.5 162.3 607.2 158.7 607.8 156.5 C608.4 154.3 609.7 153.5 610.3 151.4 C610.9 149.3 611.1 146.4 611.5 144.2 C611.9 142.0 611.9 140.1 612.5 138.1 C613.1 136.1 614.2 134.3 615.0 131.9 C615.8 129.5 616.5 127.1 617.1 123.7 C617.7 120.3 618.2 114.8 618.5 111.4 C618.8 108.0 618.8 105.8 619.1 103.2 C619.4 100.6 620.1 97.2 620.3 96.0 Z"/></g>
<g clip-path="url(#lc)"><path fill="#000" filter="url(#ig2)" d="M634.0 95.6 A279 279 0 0 1 634.6 490.7 L634.6 700 L200 700 L200 -100 L634.0 -100 Z"/></g>
<circle cx="410" cy="292.3" r="50.2" fill="#cb4b1e"/>
<circle cx="844" cy="285.2" r="50.1" fill="#cb4b1e"/>
<rect x="393.7" y="290.9" width="37.5" height="5.3" fill="#0f3a6e"/>
<rect x="409.7" y="274.7" width="5.5" height="37.3" fill="#0f3a6e"/>
<rect x="825.7" y="282.8" width="37.5" height="5.1" fill="#0f3a6e"/>
<rect x="841.7" y="266.8" width="5.6" height="37.1" fill="#0f3a6e"/>
<path fill="#c3c5c2" d="M469 280.1 H530.6 V264 L585.9 291.3 L530.6 318.8 V302.9 H469 Z"/>
<path fill="#c3c5c2" d="M786 280.1 H724.6 V264 L669.1 291.3 L724.6 318.8 V302.9 H786 Z"/>
<text x="0" y="0" font-family="Liberation Sans" font-size="71" fill="#0f3a6e" transform="translate(600.5 264.3) scale(0.975 1)">e</text>
<text x="0" y="0" font-family="Liberation Sans" font-size="71" fill="#0f3a6e" transform="translate(597.6 335.9) scale(0.975 1)">e</text>
<rect x="640.6" y="218.1" width="11.8" height="2.7" fill="#0f3a6e"/>
<rect x="637.4" y="290.1" width="11.9" height="2.7" fill="#0f3a6e"/>
</svg>
</body></html>
